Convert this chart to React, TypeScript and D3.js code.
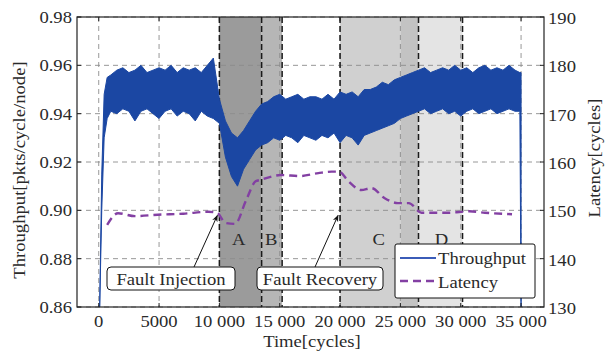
import * as d3 from 'd3';

// throughput envelope (noisy band)
const tpTime = [80, 250, 450, 700, 1000, 1500, 2000, 2500, 3000, 3500, 4000, 4500, 5000, 5500, 6000, 6500, 7000, 7500, 8000, 8500, 9000, 9500, 10000, 10500, 11000, 11500, 12000, 12500, 13000, 13500, 14000, 14500, 15000, 15500, 16000, 16500, 17000, 17500, 18000, 18500, 19000, 19500, 20000, 20500, 21000, 21500, 22000, 22500, 23000, 23500, 24000, 24500, 25000, 25500, 26000, 26500, 27000, 27500, 28000, 28500, 29000, 29500, 30000, 30500, 31000, 31500, 32000, 32500, 33000, 33500, 34000, 34500, 34900, 35000];
const tpUpper = [0.86, 0.915, 0.948, 0.955, 0.956, 0.958, 0.959, 0.957, 0.958, 0.96, 0.957, 0.958, 0.959, 0.958, 0.96, 0.957, 0.959, 0.958, 0.959, 0.957, 0.96, 0.963, 0.946, 0.937, 0.932, 0.93, 0.933, 0.937, 0.941, 0.944, 0.945, 0.947, 0.948, 0.946, 0.947, 0.948, 0.946, 0.947, 0.947, 0.946, 0.948, 0.946, 0.949, 0.948, 0.949, 0.947, 0.95, 0.95, 0.951, 0.953, 0.952, 0.954, 0.955, 0.956, 0.957, 0.958, 0.959, 0.957, 0.958, 0.959, 0.958, 0.96, 0.958, 0.959, 0.957, 0.959, 0.96, 0.958, 0.959, 0.958, 0.96, 0.958, 0.957, 0.957];
const tpLower = [0.86, 0.9, 0.93, 0.938, 0.941, 0.94, 0.942, 0.941, 0.937, 0.941, 0.942, 0.94, 0.938, 0.941, 0.942, 0.939, 0.941, 0.94, 0.937, 0.941, 0.939, 0.938, 0.936, 0.922, 0.914, 0.91, 0.917, 0.921, 0.925, 0.927, 0.928, 0.93, 0.929, 0.931, 0.93, 0.928, 0.931, 0.93, 0.929, 0.931, 0.93, 0.932, 0.928, 0.931, 0.93, 0.927, 0.931, 0.932, 0.933, 0.934, 0.935, 0.936, 0.938, 0.939, 0.94, 0.941, 0.942, 0.94, 0.941, 0.942, 0.94, 0.941, 0.939, 0.941, 0.942, 0.94, 0.941, 0.942, 0.94, 0.941, 0.942, 0.941, 0.941, 0.86];

// latency (right axis)
const latTime = [700, 1600, 3000, 4900, 7000, 9100, 9800, 10500, 11300, 12200, 13000, 13400, 15100, 16700, 18200, 19300, 19900, 20700, 21750, 22600, 23700, 24800, 25700, 26750, 27600, 29000, 30700, 32000, 34250];
const latValue = [147, 149.4, 148.8, 149.1, 149.3, 149.7, 149.5, 147.4, 147.2, 152, 156, 156.3, 157.3, 157.1, 157.7, 158, 158, 156, 154.2, 154.6, 152.5, 151.5, 151.5, 149.5, 149.5, 149.5, 149.8, 149.5, 149.2];

// shaded phases
const phaseStart = [10000, 13500, 20000, 25000, 26500];
const phaseEnd = [13500, 15200, 25000, 26500, 30150];
const phaseFill = ['#9b9b9b', '#b6b6b6', '#d0d0d0', '#c3c3c3', '#e4e4e4'];
const phaseEdges = [10000, 13500, 15200, 20000, 26500, 30150];
const phaseLabels = ['A', 'B', 'C', 'D'];
const phaseLabelX = [11600, 14300, 23200, 28400];

const xTicks = [0, 5000, 10000, 15000, 20000, 25000, 30000, 35000];
const yTicks = [0.86, 0.88, 0.9, 0.92, 0.94, 0.96, 0.98];
const y2Ticks = [130, 140, 150, 160, 170, 180, 190];

const W = 605;
const H = 356;
const L = 77, R = 544, TOP = 17, BOT = 307;
const FONT = "'Liberation Serif', 'Times New Roman', serif";
const FS = 16.5;
const SX = 1.13;

const BLUE = '#1b47a3';
const PURPLE = '#8340a3';

function Txt({ x, y, rot = 0, anchor = 'start', children }: { x: number; y: number; rot?: number; anchor?: string; children: any }) {
  return (
    <text
      transform={`translate(${x},${y}) rotate(${rot}) scale(${SX},1)`}
      textAnchor={anchor}
      fontFamily={FONT}
      fontSize={FS}
      fill="#2a2a2a"
    >
      {children}
    </text>
  );
}

const fmtX = (v: number) => (v >= 10000 ? d3.format(',')(v).replace(/,/g, ' ') : String(v));

export default function App() {
  const x = d3.scaleLinear().domain([-1800, 36900]).range([L, R]);
  const y = d3.scaleLinear().domain([0.86, 0.98]).range([BOT, TOP]);
  const y2 = d3.scaleLinear().domain([130, 190]).range([BOT, TOP]);

  const band = d3
    .area<number>()
    .x((_, i) => x(tpTime[i]))
    .y0((_, i) => y(tpLower[i]))
    .y1((_, i) => y(tpUpper[i]));

  const latLine = d3
    .line<number>()
    .x((_, i) => x(latTime[i]))
    .y((d) => y2(d))
    .curve(d3.curveMonotoneX);

  return (
    <svg width={W} height={H} style={{ position: 'absolute', left: 0, top: 0, background: '#fff' }}>
      <defs>
        <marker id="arr" viewBox="0 0 10 10" refX="9" refY="5" markerWidth="7" markerHeight="7" orient="auto">
          <path d="M0,1 L10,5 L0,9 L3,5 Z" fill="#111" />
        </marker>
        <clipPath id="plot">
          <rect x={L} y={TOP} width={R - L} height={BOT - TOP} />
        </clipPath>
      </defs>

      {/* phases */}
      {phaseStart.map((s, i) => (
        <rect key={i} x={x(s)} y={TOP} width={x(phaseEnd[i]) - x(s)} height={BOT - TOP} fill={phaseFill[i]} />
      ))}

      {/* grid */}
      <g stroke="#8c8c8c" strokeWidth={0.9} strokeDasharray="5,4">
        {xTicks.map((t) => (
          <line key={t} x1={x(t)} x2={x(t)} y1={TOP} y2={BOT} />
        ))}
        {yTicks.map((t) => (
          <line key={t} x1={L} x2={R} y1={y(t)} y2={y(t)} />
        ))}
      </g>

      {/* phase boundaries */}
      <g stroke="#1a1a1a" strokeWidth={1.5} strokeDasharray="6,3">
        {phaseEdges.map((e) => (
          <line key={e} x1={x(e)} x2={x(e)} y1={TOP} y2={BOT} />
        ))}
      </g>

      {phaseLabels.map((l, i) => (
        <Txt key={l} x={x(phaseLabelX[i])} y={245} anchor="middle">{l}</Txt>
      ))}

      {/* throughput band + latency */}
      <g clipPath="url(#plot)">
        <path d={band(tpTime) ?? ''} fill={BLUE} stroke={BLUE} strokeWidth={1} />
        <path d={latLine(latValue) ?? ''} fill="none" stroke={PURPLE} strokeWidth={2.4} strokeDasharray="8,5" />
      </g>

      {/* annotations */}
      <line x1={194} y1={267} x2={x(10000) - 2} y2={y(0.9) + 5} stroke="#111" strokeWidth={1} markerEnd="url(#arr)" />
      <line x1={315} y1={267} x2={x(20000) - 2} y2={y(0.9) + 5} stroke="#111" strokeWidth={1} markerEnd="url(#arr)" />
      <rect x={107} y={267} width={128} height={23} rx={4} fill="#fff" stroke="#111" strokeWidth={1} />
      <Txt x={171} y={285} anchor="middle">Fault Injection</Txt>
      <rect x={257} y={267} width={126} height={23} rx={4} fill="#fff" stroke="#111" strokeWidth={1} />
      <Txt x={320} y={285} anchor="middle">Fault Recovery</Txt>

      {/* legend */}
      <rect x={395} y={244} width={140} height={54} rx={2} fill="#fff" stroke="#111" strokeWidth={1} />
      <line x1={400} x2={436} y1={258} y2={258} stroke="#3b5cb8" strokeWidth={2} />
      <Txt x={438} y={264}>Throughput</Txt>
      <line x1={400} x2={436} y1={281} y2={281} stroke={PURPLE} strokeWidth={2.4} strokeDasharray="8,5" />
      <Txt x={438} y={288}>Latency</Txt>

      {/* frame and ticks */}
      <rect x={L} y={TOP} width={R - L} height={BOT - TOP} fill="none" stroke="#222" strokeWidth={1.2} />
      <g stroke="#222" strokeWidth={1}>
        {xTicks.map((t) => (
          <g key={t}>
            <line x1={x(t)} x2={x(t)} y1={BOT} y2={BOT - 4} />
            <line x1={x(t)} x2={x(t)} y1={TOP} y2={TOP + 4} />
          </g>
        ))}
        {yTicks.map((t) => (
          <line key={t} x1={L} x2={L + 4} y1={y(t)} y2={y(t)} />
        ))}
        {y2Ticks.map((t) => (
          <line key={t} x1={R} x2={R - 4} y1={y2(t)} y2={y2(t)} />
        ))}
      </g>

      {xTicks.map((t) => (
        <Txt key={t} x={x(t)} y={327} anchor="middle">{fmtX(t)}</Txt>
      ))}
      {yTicks.map((t) => (
        <Txt key={t} x={72} y={y(t) + 6} anchor="end">{d3.format('.2f')(t)}</Txt>
      ))}
      {y2Ticks.map((t) => (
        <Txt key={t} x={548} y={y2(t) + 7}>{t}</Txt>
      ))}

      <Txt x={312} y={347} anchor="middle">Time[cycles]</Txt>
      <Txt x={25} y={170} rot={-90} anchor="middle">Throughput[pkts/cycle/node]</Txt>
      <Txt x={600} y={158} rot={-90} anchor="middle">Latency[cycles]</Txt>
    </svg>
  );
}
